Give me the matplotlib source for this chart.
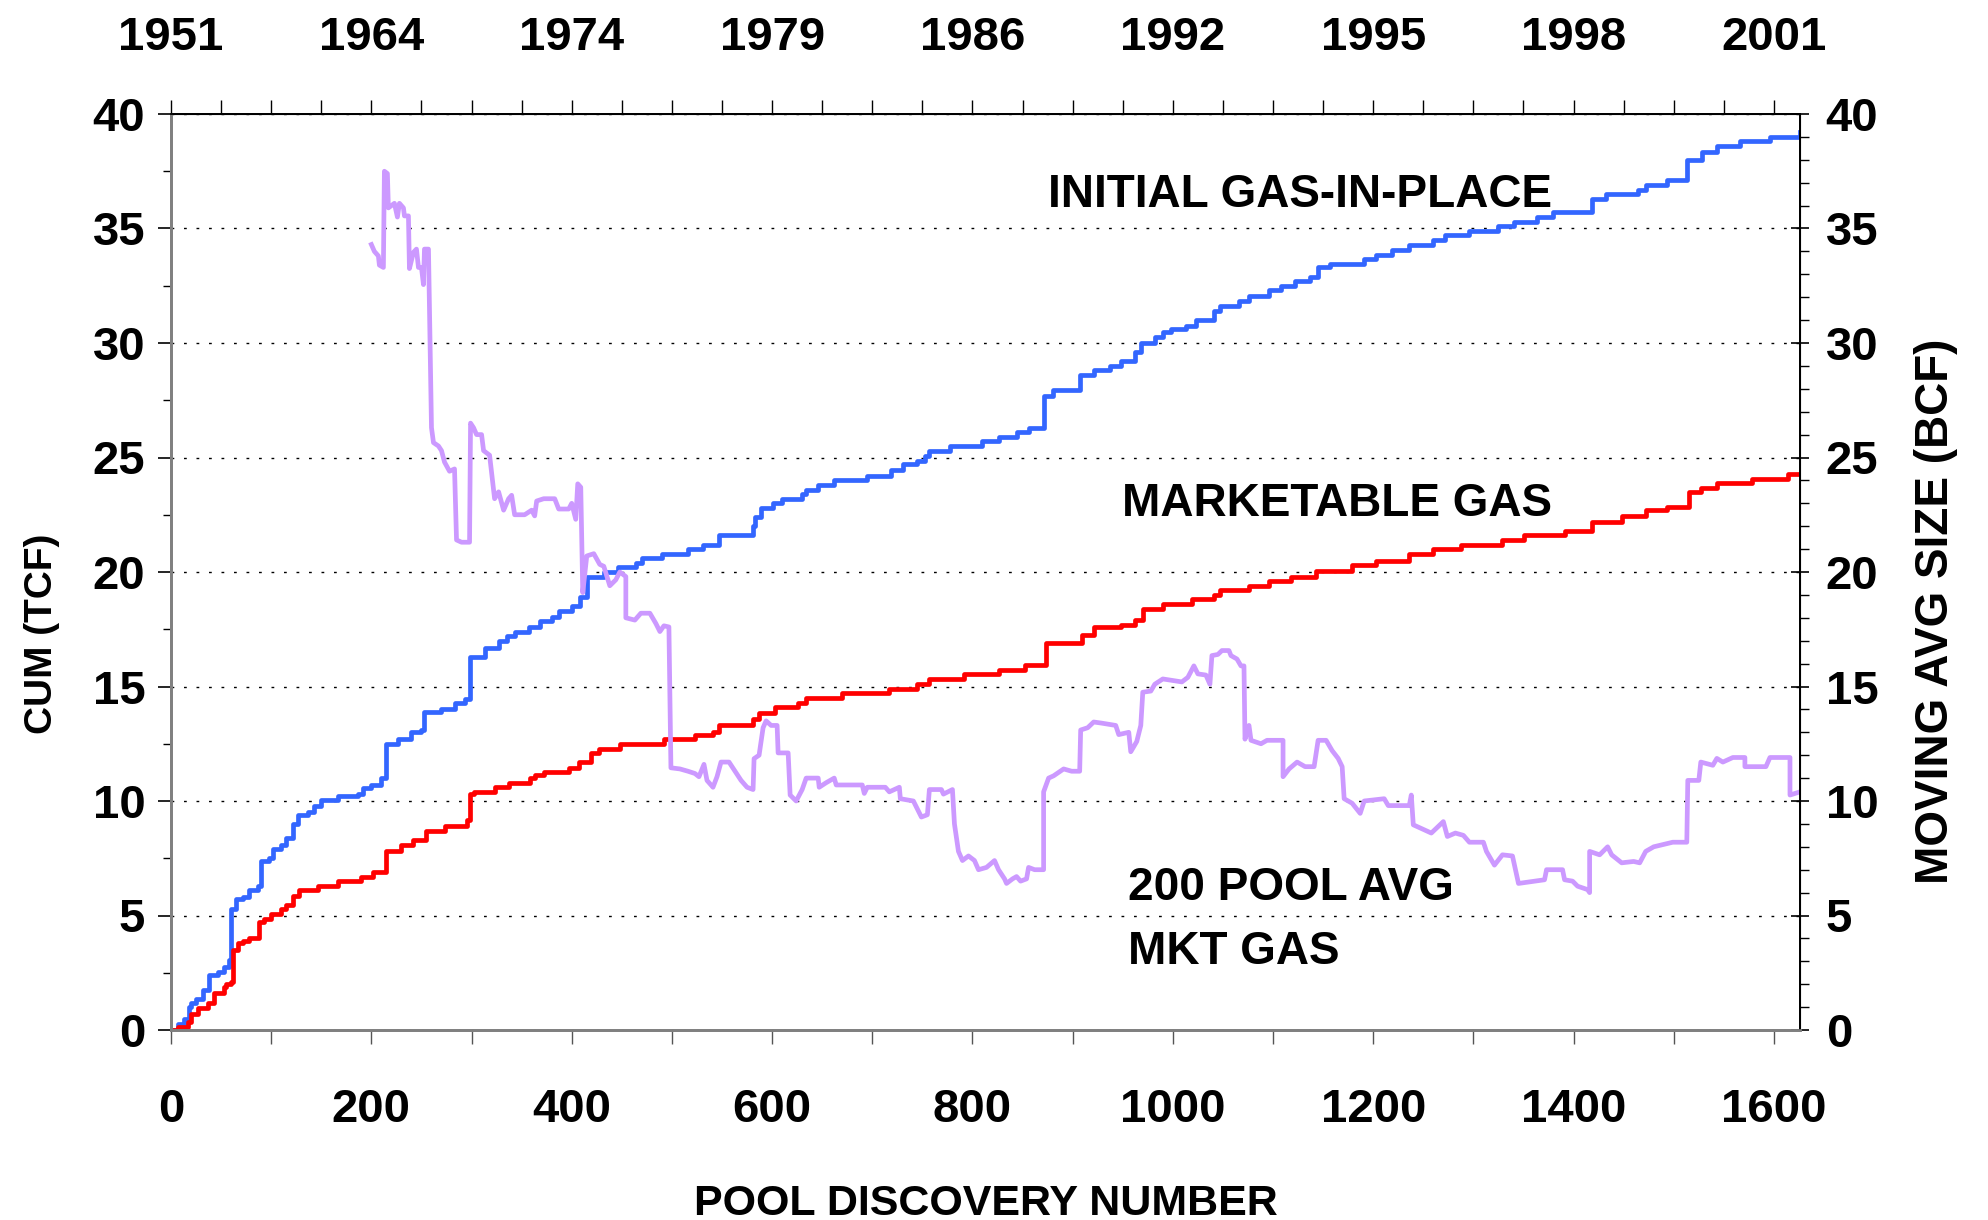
import matplotlib
matplotlib.use("Agg")
import matplotlib.pyplot as plt

# ---------------- data ----------------
igip_x = [0, 7, 13, 18, 20, 25, 32, 38, 47, 53, 58, 60, 65, 72, 78, 87, 90, 98, 102, 110,
          115, 122, 127, 137, 143, 150, 167, 187, 192, 200, 210, 215, 227, 240, 250, 253, 270, 283, 293, 298,
          313, 327, 335, 343, 357, 368, 380, 387, 400, 408, 415, 432, 446, 464, 470, 490, 516, 531, 547, 581,
          583, 589, 601, 610, 630, 634, 646, 662, 695, 719, 731, 745, 753, 757, 778, 810, 826, 844, 856, 871,
          880, 907, 921, 937, 948, 962, 968, 982, 990, 998, 1013, 1023, 1041, 1047, 1066, 1076, 1096, 1108, 1122, 1137,
          1145, 1157, 1191, 1203, 1219, 1236, 1260, 1272, 1296, 1325, 1341, 1363, 1379, 1418, 1432, 1464, 1472, 1493, 1513, 1528,
          1543, 1566, 1596, 1626]
igip_tcf = [0, 0.25, 0.5, 1.0, 1.2, 1.35, 1.75, 2.4, 2.55, 2.75, 3.05, 5.3, 5.7, 5.8, 6.1, 6.3, 7.4, 7.5, 7.9, 8.1,
            8.4, 9.0, 9.4, 9.5, 9.8, 10.05, 10.2, 10.3, 10.55, 10.7, 11.0, 12.5, 12.7, 13.0, 13.1, 13.9, 14.0, 14.3, 14.45, 16.3,
            16.7, 17.0, 17.2, 17.4, 17.6, 17.85, 18.05, 18.3, 18.5, 18.9, 19.8, 20.0, 20.2, 20.4, 20.6, 20.8, 21.0, 21.2, 21.6, 22.0,
            22.4, 22.8, 23.0, 23.2, 23.4, 23.6, 23.8, 24.0, 24.2, 24.45, 24.7, 24.85, 25.05, 25.3, 25.5, 25.7, 25.9, 26.1, 26.3, 27.7,
            27.96, 28.6, 28.8, 29.0, 29.2, 29.6, 30.0, 30.25, 30.5, 30.6, 30.75, 31.0, 31.4, 31.6, 31.85, 32.05, 32.3, 32.5, 32.7, 32.9,
            33.3, 33.45, 33.65, 33.85, 34.05, 34.3, 34.5, 34.7, 34.9, 35.1, 35.3, 35.5, 35.7, 36.3, 36.5, 36.7, 36.9, 37.1, 38.0, 38.35,
            38.6, 38.8, 39.0, 39.2]

mkt_x = [0, 7, 17, 20, 27, 37, 43, 53, 55, 60, 62, 67, 72, 78, 88, 93, 100, 110, 115, 122,
         128, 147, 167, 190, 202, 215, 230, 242, 255, 273, 295, 298, 302, 323, 337, 358, 363, 372, 397, 407,
         419, 427, 448, 492, 523, 541, 547, 581, 587, 603, 626, 634, 670, 717, 745, 757, 792, 826, 852, 873,
         909, 921, 948, 962, 970, 990, 1019, 1041, 1047, 1076, 1096, 1118, 1143, 1179, 1203, 1236, 1260, 1288, 1329, 1351,
         1391, 1418, 1448, 1472, 1493, 1515, 1527, 1543, 1578, 1614, 1626]
mkt_tcf = [0, 0.15, 0.33, 0.7, 0.97, 1.2, 1.6, 1.87, 2.0, 2.1, 3.5, 3.8, 3.9, 4.0, 4.7, 4.85, 5.06, 5.27, 5.45, 5.83,
           6.1, 6.3, 6.5, 6.7, 6.9, 7.8, 8.1, 8.3, 8.7, 8.9, 9.15, 10.3, 10.4, 10.6, 10.8, 11.0, 11.15, 11.25, 11.45, 11.7,
           12.1, 12.26, 12.5, 12.7, 12.9, 13.0, 13.3, 13.6, 13.85, 14.1, 14.3, 14.5, 14.7, 14.9, 15.1, 15.33, 15.55, 15.74, 15.94, 16.9,
           17.25, 17.6, 17.7, 17.9, 18.4, 18.6, 18.8, 19.0, 19.2, 19.4, 19.6, 19.8, 20.04, 20.3, 20.5, 20.8, 21.0, 21.2, 21.4, 21.6,
           21.8, 22.2, 22.45, 22.7, 22.85, 23.5, 23.67, 23.9, 24.06, 24.3, 24.3]

avg_x = [200, 203, 207, 208, 212, 213, 216, 217, 220, 223, 226, 228, 232, 233, 237, 238, 242, 245, 247, 250,
         252, 253, 257, 260, 262, 267, 270, 273, 278, 283, 285, 290, 298, 299, 302, 305, 310, 312, 318, 323,
         327, 332, 337, 340, 343, 353, 360, 363, 365, 372, 383, 387, 397, 400, 404, 406, 409, 411, 415, 422,
         428, 432, 438, 444, 448, 454, 454, 463, 469, 478, 484, 488, 492, 497, 499, 508, 516, 523, 527, 532,
         535, 541, 545, 549, 557, 563, 569, 575, 581, 582, 587, 591, 594, 599, 605, 606, 616, 618, 624, 630,
         634, 646, 647, 654, 662, 664, 690, 692, 695, 713, 717, 727, 728, 741, 749, 755, 757, 769, 771, 780,
         782, 786, 790, 796, 802, 806, 814, 822, 826, 832, 834, 840, 844, 848, 854, 856, 862, 871, 871, 876,
         881, 891, 899, 907, 908, 915, 921, 929, 943, 946, 956, 958, 964, 968, 970, 978, 982, 990, 1000, 1009,
         1015, 1021, 1025, 1033, 1037, 1039, 1045, 1049, 1056, 1058, 1064, 1068, 1071, 1072, 1076, 1078, 1088, 1094, 1110, 1110,
         1116, 1124, 1132, 1141, 1145, 1153, 1159, 1165, 1169, 1171, 1179, 1187, 1191, 1211, 1215, 1236, 1238, 1240, 1248, 1258,
         1270, 1274, 1282, 1290, 1296, 1310, 1313, 1321, 1329, 1339, 1345, 1371, 1373, 1389, 1391, 1399, 1404, 1414, 1416, 1416,
         1426, 1434, 1438, 1448, 1460, 1466, 1472, 1480, 1499, 1513, 1514, 1525, 1527, 1539, 1543, 1549, 1559, 1571, 1571, 1592,
         1596, 1616, 1616, 1626]
avg_bcf = [34.3, 34.0, 33.8, 33.4, 33.3, 37.5, 37.4, 35.9, 36.0, 36.1, 35.5, 36.1, 35.9, 35.55, 35.55, 33.25, 33.96, 34.1, 33.3, 33.3,
           32.55, 34.1, 34.1, 26.3, 25.65, 25.5, 25.3, 24.8, 24.4, 24.5, 21.4, 21.3, 21.3, 26.5, 26.3, 26.0, 26.0, 25.3, 25.1, 23.2,
           23.5, 22.7, 23.2, 23.35, 22.5, 22.5, 22.7, 22.45, 23.1, 23.2, 23.2, 22.75, 22.75, 23.0, 22.3, 23.85, 23.7, 19.1, 20.7, 20.8,
           20.33, 20.25, 19.4, 19.66, 20.0, 19.8, 18.0, 17.9, 18.2, 18.2, 17.75, 17.4, 17.65, 17.6, 11.45, 11.4, 11.3, 11.2, 11.06, 11.6,
           10.9, 10.6, 11.06, 11.7, 11.7, 11.3, 10.9, 10.6, 10.5, 11.85, 12.0, 13.2, 13.5, 13.3, 13.3, 12.1, 12.1, 10.26, 10.0, 10.5,
           11.0, 11.0, 10.6, 10.8, 11.0, 10.7, 10.7, 10.33, 10.6, 10.6, 10.4, 10.6, 10.1, 10.0, 9.3, 9.4, 10.5, 10.5, 10.3, 10.5,
           9.0, 7.8, 7.4, 7.6, 7.4, 7.0, 7.1, 7.4, 7.0, 6.6, 6.4, 6.6, 6.7, 6.5, 6.6, 7.1, 7.0, 7.0, 10.4, 11.0,
           11.1, 11.4, 11.3, 11.3, 13.1, 13.2, 13.45, 13.4, 13.3, 12.9, 13.0, 12.15, 12.6, 13.3, 14.75, 14.8, 15.1, 15.33, 15.26, 15.2,
           15.4, 15.9, 15.55, 15.5, 15.1, 16.35, 16.4, 16.57, 16.57, 16.35, 16.2, 15.9, 15.9, 12.7, 13.3, 12.65, 12.5, 12.65, 12.65, 11.06,
           11.4, 11.7, 11.5, 11.5, 12.65, 12.65, 12.2, 11.86, 11.5, 10.1, 9.9, 9.46, 10.0, 10.1, 9.8, 9.8, 10.26, 8.96, 8.8, 8.6,
           9.1, 8.45, 8.6, 8.5, 8.2, 8.2, 7.8, 7.2, 7.65, 7.6, 6.4, 6.56, 7.0, 7.0, 6.56, 6.5, 6.28, 6.13, 6.0, 7.8,
           7.65, 8.0, 7.65, 7.3, 7.36, 7.3, 7.8, 8.0, 8.2, 8.2, 10.9, 10.9, 11.7, 11.56, 11.86, 11.7, 11.9, 11.9, 11.5, 11.5,
           11.9, 11.9, 10.26, 10.4]

pool_ticks = [0, 200, 400, 600, 800, 1000, 1200, 1400, 1600]
year_labels = ['1951', '1964', '1974', '1979', '1986', '1992', '1995', '1998', '2001']

plt.rcParams['font.family'] = ['Liberation Sans', 'DejaVu Sans']
plt.rcParams['font.weight'] = 'bold'

# ---------------- figure ----------------
fig = plt.figure(figsize=(19.88, 12.2), dpi=100)
ax = fig.add_axes([171 / 1988, 190 / 1220, 1629 / 1988, 916 / 1220])
ax2 = ax.twinx()
axt = ax.twiny()

XMAX = 1626
ax.step(igip_x, igip_tcf, where='post', color='#3366FF', lw=3.4)
ax.step(mkt_x, mkt_tcf, where='post', color='#FF0000', lw=3.4)
ax2.plot(avg_x, avg_bcf, color='#CC99FF', lw=3.4)

for a in (ax, ax2, axt):
    a.set_xlim(0, XMAX)
ax.set_ylim(0, 40)
ax2.set_ylim(0, 40)

# grid
ax.set_yticks(range(0, 41, 5))
ax.set_yticks([v + 2.5 for v in range(0, 40, 5)], minor=True)
ax.grid(axis='y', which='major', color='black', linestyle=(0, (2, 7)), lw=1)

# bottom axis
ax.set_xticks(pool_ticks)
ax.set_xticks(range(100, 1601, 200), minor=True)
ax.tick_params(axis='x', which='both', direction='out', length=10, width=1, color='#555555',
               labelsize=34, pad=32)
ax.tick_params(axis='y', which='major', direction='out', length=9.5, width=1.2, labelsize=34, pad=9)
ax.tick_params(axis='y', which='minor', direction='out', length=5.5, width=1)

# right axis
ax2.set_yticks(range(0, 41, 5))
ax2.set_yticks([v for v in range(0, 41) if v % 5], minor=True)
ax2.tick_params(axis='y', which='major', direction='inout', length=13, width=1.2, labelsize=34, pad=12)
ax2.tick_params(axis='y', which='minor', direction='out', length=6.5, width=1)

# top axis with discovery years
axt.set_xticks(pool_ticks)
axt.set_xticklabels(year_labels)
axt.set_xticks([v for v in range(50, 1626, 50) if v % 200], minor=True)
axt.tick_params(axis='x', which='both', direction='out', length=10, width=1, labelsize=34, pad=29)

for a in (ax, ax2, axt):
    for lab in a.get_xticklabels() + a.get_yticklabels():
        lab.set_fontweight('bold')

for name in ('left', 'bottom'):
    ax.spines[name].set_color('#808080')
    ax.spines[name].set_linewidth(1.8)
for a in (ax2, axt):
    a.spines['left'].set_color('#808080')
    a.spines['left'].set_linewidth(1.8)
    a.spines['bottom'].set_color('#808080')
    a.spines['bottom'].set_linewidth(1.8)
    a.spines['top'].set_linewidth(1.3)
    a.spines['right'].set_linewidth(1.3)

# axis labels
ax.set_xlabel('POOL DISCOVERY NUMBER', fontsize=31, fontweight='bold')
ax.xaxis.set_label_coords(0.5, -0.168)
ax.set_ylabel('CUM (TCF)', fontsize=28, fontweight='bold')
ax.yaxis.set_label_coords(-0.068, 0.432)
ax2.set_ylabel('MOVING AVG SIZE (BCF)', fontsize=33, fontweight='bold')
ax2.yaxis.set_label_coords(1.07, 0.457)

# series annotations
ax.text(1378, 35.95, 'INITIAL GAS-IN-PLACE', fontsize=33, fontweight='bold', ha='right', va='baseline')
ax.text(1378, 22.45, 'MARKETABLE GAS', fontsize=33, fontweight='bold', ha='right', va='baseline')
ax.text(955, 5.68, '200 POOL AVG', fontsize=33, fontweight='bold', ha='left', va='baseline')
ax.text(955, 2.88, 'MKT GAS', fontsize=33, fontweight='bold', ha='left', va='baseline')

fig.savefig('out.png', dpi=100)
